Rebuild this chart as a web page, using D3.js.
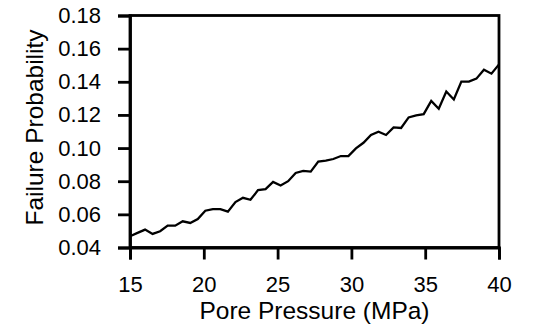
<!DOCTYPE html>
<html>
<head>
<meta charset="utf-8">
<script src="https://cdn.jsdelivr.net/npm/d3@7"></script>
<style>
  body { margin: 0; background: #fff; }
  svg text { font-family: "Liberation Sans", Arial, sans-serif; fill: #000; }
</style>
</head>
<body>
<div id="chart"></div>
<script>
// pore pressure samples (MPa), 50 evenly spaced from 15 to 40
const pressureStart = 15;
const pressureEnd = 40;
const failureProbability = [
  0.0468, 0.0488, 0.0508, 0.0482, 0.0498, 0.0532, 0.0532, 0.0558, 0.0548, 0.0572,
  0.0622, 0.0632, 0.0632, 0.0616, 0.0674, 0.0700, 0.0688, 0.0746, 0.0752, 0.0796,
  0.0774, 0.0800, 0.0850, 0.0862, 0.0858, 0.0918, 0.0924, 0.0934, 0.0952, 0.0952,
  0.0998, 0.1032, 0.1079, 0.1099, 0.1079, 0.1125, 0.1121, 0.1185, 0.1197, 0.1205,
  0.1285, 0.1237, 0.1341, 0.1293, 0.1401, 0.1401, 0.1419, 0.1473, 0.1449, 0.1505
];
const xTicks = [15, 20, 25, 30, 35, 40];
const yTicks = [0.04, 0.06, 0.08, 0.10, 0.12, 0.14, 0.16, 0.18];

const pressure = failureProbability.map(
  (_d, i) => pressureStart + (i * (pressureEnd - pressureStart)) / (failureProbability.length - 1)
);
const data = pressure.map((p, i) => ({ p, v: failureProbability[i] }));

const width = 535, height = 329;
const margin = { top: 15.5, right: 36, bottom: 81.5, left: 130 };

const svg = d3
  .select("#chart")
  .append("svg")
  .attr("width", width)
  .attr("height", height);

const x = d3
  .scaleLinear()
  .domain([15, 40])
  .range([margin.left, width - margin.right]);

const y = d3
  .scaleLinear()
  .domain([0.04, 0.18])
  .range([height - margin.bottom, margin.top]);

// line
svg
  .append("path")
  .datum(data)
  .attr("fill", "none")
  .attr("stroke", "#000")
  .attr("stroke-width", 2.3)
  .attr("stroke-linejoin", "miter")
  .attr("d", d3.line().x((d) => x(d.p)).y((d) => y(d.v)));

// frame (top and right)
svg
  .append("rect")
  .attr("x", x(15))
  .attr("y", y(0.18))
  .attr("width", x(40) - x(15))
  .attr("height", y(0.04) - y(0.18))
  .attr("fill", "none")
  .attr("stroke", "#000")
  .attr("stroke-width", 2.8);

const xAxis = svg
  .append("g")
  .attr("transform", `translate(0,${y(0.04)})`)
  .call(
    d3.axisBottom(x)
      .tickValues(xTicks)
      .tickSize(12)
      .tickPadding(16.5)
      .tickFormat(d3.format("d"))
  );

const yAxis = svg
  .append("g")
  .attr("transform", `translate(${x(15)},0)`)
  .call(
    d3.axisLeft(y)
      .tickValues(yTicks)
      .tickSize(12)
      .tickPadding(17)
      .tickFormat(d3.format(".2f"))
  );

[xAxis, yAxis].forEach((g) => {
  g.attr("font-size", null);
  g.select(".domain").attr("stroke", "#000").attr("stroke-width", 2.8);
  g.selectAll(".tick line").attr("stroke", "#000").attr("stroke-width", 2.8);
  g.selectAll(".tick text")
    .style("font-size", "22px")
    .style("font-family", '"Liberation Sans", Arial, sans-serif')
    .attr("fill", "#000");
});

svg
  .append("text")
  .attr("x", (x(15) + x(40)) / 2)
  .attr("y", 319)
  .attr("text-anchor", "middle")
  .style("font-size", "24.5px")
  .text("Pore Pressure (MPa)");

svg
  .append("text")
  .attr("transform", `translate(43,${(y(0.04) + y(0.18)) / 2 - 4}) rotate(-90)`)
  .attr("text-anchor", "middle")
  .style("font-size", "24.5px")
  .text("Failure Probability");
</script>
</body>
</html>
